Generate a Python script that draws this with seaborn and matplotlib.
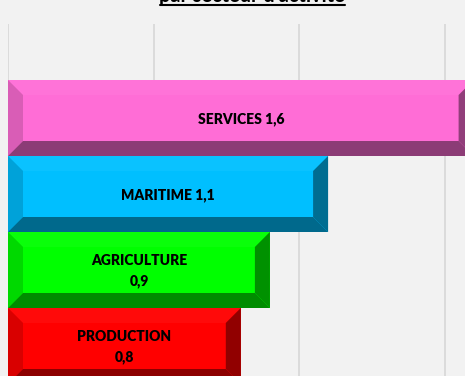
import numpy as np
import pandas as pd
import matplotlib
matplotlib.use("Agg")
import matplotlib.pyplot as plt
from matplotlib.patches import Polygon
from matplotlib.lines import Line2D
import matplotlib.colors as mcolors
import seaborn as sns

# ---- data ----
categories = ["SERVICES", "MARITIME", "AGRICULTURE", "PRODUCTION"]
values = [1.6, 1.1, 0.9, 0.8]
label_seps = [" ", " ", "\n", "\n"]
colors = ["#FF6DD6", "#00BFFF", "#00FF00", "#FF0000"]
title_text = "par secteur d'activité"
x_ticks = [0, 0.5, 1.0, 1.5]

sns.set_theme(style="white")
plt.rcParams["font.family"] = ["Lato", "DejaVu Sans"]

W, H = 465, 376
fig = plt.figure(figsize=(W / 100, H / 100), dpi=100)
fig.patch.set_facecolor("#F2F2F2")

px_per_unit_x = 291.0
px_per_unit_y = 76.0
left_px, top_px = 8, 24
ax = fig.add_axes([left_px / W, 0, (W - left_px) / W, (H - top_px) / H])
ax.set_facecolor("#F2F2F2")

df = pd.DataFrame({"cat": categories, "val": values})
sns.barplot(data=df, x="val", y="cat", hue="cat", palette=colors, orient="h",
            width=1.0, legend=False, ax=ax, linewidth=0, saturation=1)

ax.set_xlim(0, (W - left_px) / px_per_unit_x)
y_top = 0 - (118 - top_px) / px_per_unit_y
y_bot = 3 + (H - 346) / px_per_unit_y
ax.set_ylim(y_bot, y_top)

for s in ax.spines.values():
    s.set_visible(False)
ax.set_xticks(x_ticks)
ax.set_xticklabels([])
ax.set_yticks([])
ax.set_xlabel("")
ax.set_ylabel("")
ax.tick_params(length=0)
ax.grid(False)
for xv in x_ticks:
    ax.axvline(xv, color="#D9D9D9", lw=1.3, zorder=0)

bx = 15 / px_per_unit_x
by = 15 / px_per_unit_y

def shade(c, f):
    r, g, b = mcolors.to_rgb(c)
    return (min(1, r * f), min(1, g * f), min(1, b * f))

def lighten(c, a):
    r, g, b = mcolors.to_rgb(c)
    return (r + (1 - r) * a, g + (1 - g) * a, b + (1 - b) * a)

for i, p in enumerate(ax.patches):
    x0 = p.get_x()
    x1 = x0 + p.get_width()
    y0 = p.get_y()
    y1 = y0 + p.get_height()
    yt, yb = min(y0, y1), max(y0, y1)
    c = colors[i]
    top = [(x0, yt), (x1, yt), (x1 - bx, yt + by), (x0 + bx, yt + by)]
    bot = [(x0, yb), (x1, yb), (x1 - bx, yb - by), (x0 + bx, yb - by)]
    lft = [(x0, yt), (x0 + bx, yt + by), (x0 + bx, yb - by), (x0, yb)]
    rgt = [(x1, yt), (x1 - bx, yt + by), (x1 - bx, yb - by), (x1, yb)]
    for pts, col in [(top, lighten(c, 0.04)), (lft, shade(c, 0.85)),
                     (rgt, shade(c, 0.57)), (bot, shade(c, 0.55))]:
        ax.add_patch(Polygon(pts, closed=True, facecolor=col, edgecolor="none", zorder=3))
    label = f"{categories[i]}{label_seps[i]}{str(values[i]).replace('.', ',')}"
    ax.text((x0 + x1) / 2, (yt + yb) / 2 + 0.015, label, ha="center", va="center",
            fontsize=10, fontweight="heavy", color="black", zorder=5,
            linespacing=1.65)

# title (partially cut off at the top, as in the reference)
fig.text(252 / W, 1 - 2.5 / H, title_text, ha="center", va="baseline",
         fontsize=14.3, fontweight="bold", color="black")
fig.add_artist(Line2D([160 / W, 345 / W], [1 - 4.5 / H, 1 - 4.5 / H],
                      color="black", lw=1.5, transform=fig.transFigure))

fig.savefig("out.png", dpi=100, facecolor=fig.get_facecolor())
